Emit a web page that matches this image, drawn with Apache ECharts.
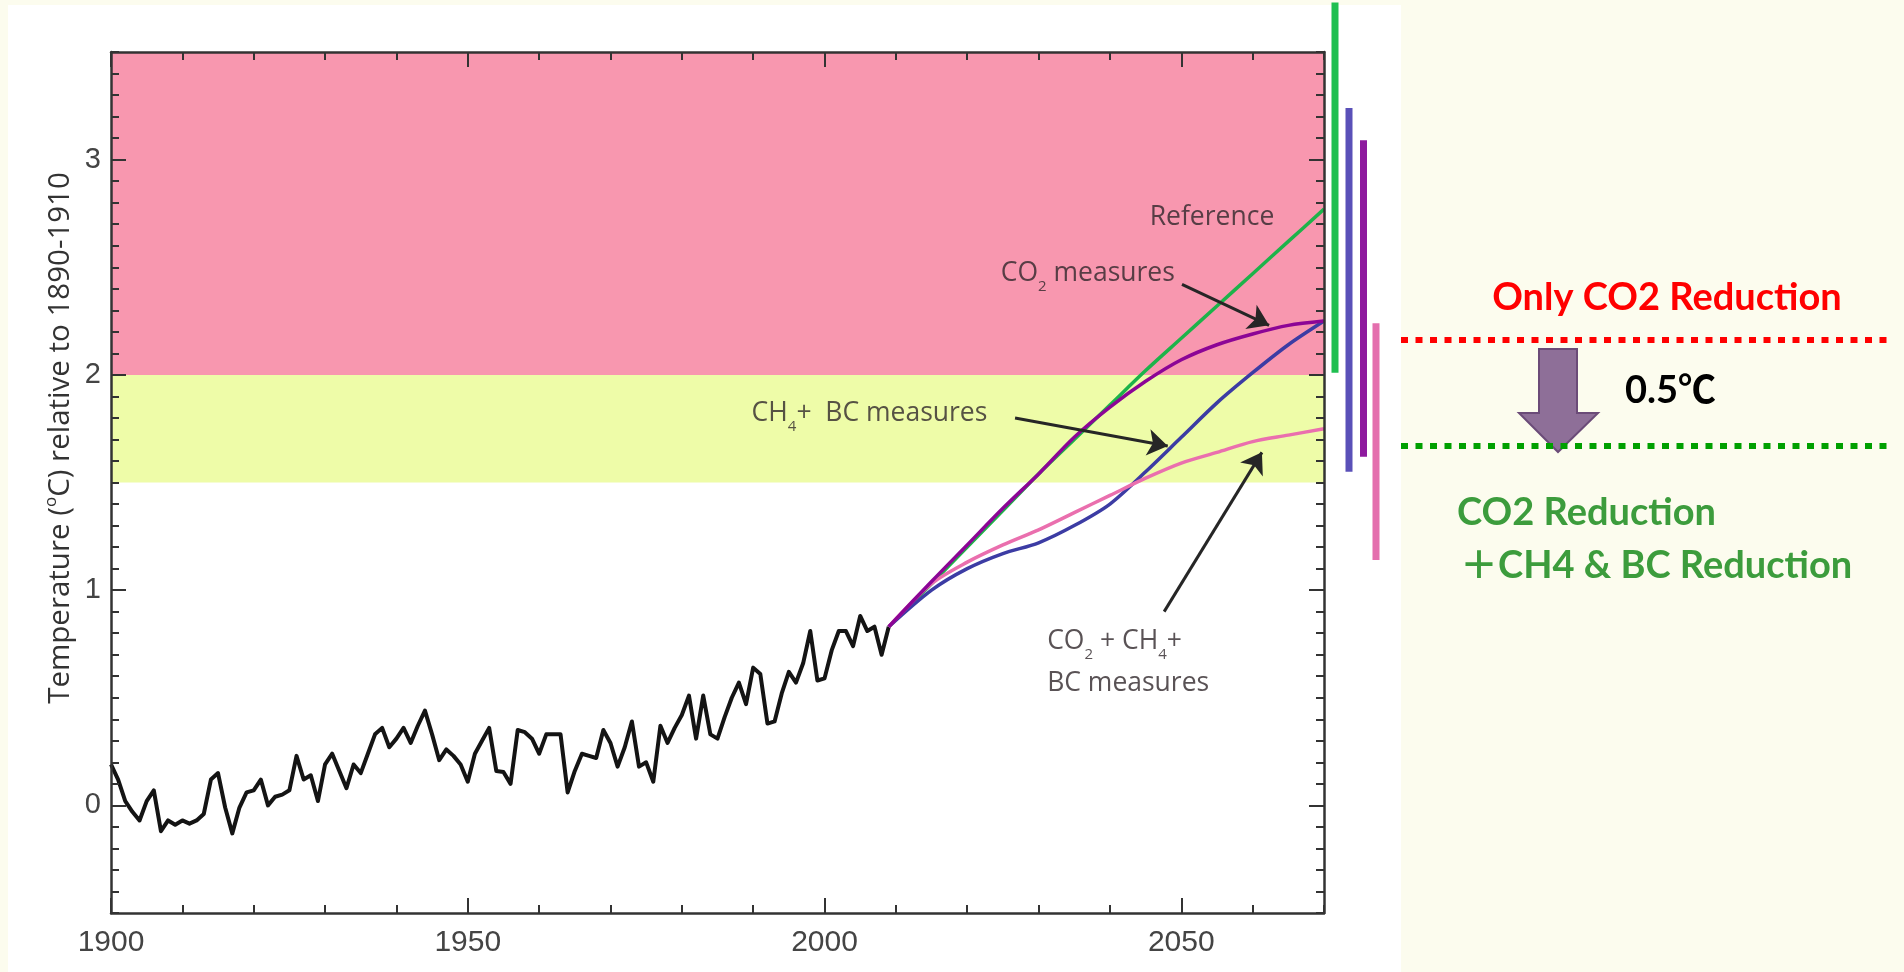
<!DOCTYPE html>
<html><head><meta charset="utf-8">
<script src="https://cdn.jsdelivr.net/npm/echarts@6/dist/echarts.min.js"></script>
<style>
html,body{margin:0;padding:0;width:1904px;height:972px;overflow:hidden;background:#fcfcee;}
#paper{position:absolute;left:8px;top:5px;width:1393px;height:967px;background:#ffffff;}
#chart{position:absolute;left:0;top:0;width:1904px;height:972px;}
</style></head><body>
<div id="paper"></div><div id="chart"></div>
<script>
// ---------- data ----------
const histStartYear = 1900;
const histTemps = [
 0.19, 0.12, 0.02,-0.03,-0.07, 0.02, 0.07,-0.12,-0.07,-0.09,
-0.07,-0.085,-0.07,-0.04, 0.12, 0.15,-0.01,-0.13,-0.01, 0.06,
 0.07, 0.12, 0.00, 0.04, 0.05, 0.07, 0.23, 0.12, 0.14, 0.02,
 0.19, 0.24, 0.16, 0.08, 0.19, 0.15, 0.24, 0.33, 0.36, 0.27,
 0.31, 0.36, 0.29, 0.37, 0.44, 0.33, 0.21, 0.26, 0.23, 0.19,
 0.11, 0.24, 0.30, 0.36, 0.16, 0.155,0.10, 0.35, 0.34, 0.31,
 0.24, 0.33, 0.33, 0.33, 0.06, 0.16, 0.24, 0.23, 0.22, 0.35,
 0.29, 0.18, 0.27, 0.39, 0.18, 0.20, 0.11, 0.37, 0.29, 0.36,
 0.42, 0.51, 0.31, 0.51, 0.33, 0.31, 0.41, 0.50, 0.57, 0.47,
 0.64, 0.61, 0.38, 0.39, 0.52, 0.62, 0.57, 0.66, 0.81, 0.58,
 0.59, 0.72, 0.81, 0.81, 0.74, 0.88, 0.81, 0.83, 0.70, 0.83
];
const projYears      = [2009, 2015, 2020, 2025, 2030, 2035, 2040, 2045, 2050, 2055, 2060, 2065, 2070];
const referenceTemps = [0.83, 1.03, 1.20, 1.37, 1.54, 1.70, 1.86, 2.02, 2.17, 2.32, 2.47, 2.62, 2.77];
const co2Temps       = [0.83, 1.04, 1.21, 1.38, 1.54, 1.71, 1.85, 1.97, 2.07, 2.14, 2.19, 2.23, 2.25];
const ch4bcTemps     = [0.83, 1.00, 1.10, 1.17, 1.22, 1.30, 1.40, 1.55, 1.71, 1.87, 2.01, 2.14, 2.25];
const allTemps       = [0.83, 1.03, 1.13, 1.21, 1.28, 1.36, 1.44, 1.52, 1.59, 1.64, 1.69, 1.72, 1.75];
// 2070 ranges: reference, CH4+BC, CO2, CO2+CH4+BC
const rangeHigh = [3.73, 3.24, 3.09, 2.24];
const rangeLow  = [2.01, 1.55, 1.62, 1.14];
const xTickLabels = [1900, 1950, 2000, 2050];
const yTickLabels = [0, 1, 2, 3];
const dangerBand  = [2, 3.5];
const cautionBand = [1.5, 2];
const noteX = [2054.3, 2036.9, 2006.3, 2031.2];
const noteY = [2.73, 2.47, 1.82, 0.665];
const noteText = ['{t|Reference}', '{t|CO}{s|2}{t| measures}', '{t|CH}{s|4}{t|+  BC measures}', '{t|CO}{s|2}{t| + CH}{s|4}{t|+}\n{t|BC measures}'];
const arrowFromX = [2050.1, 2026.7, 2047.6];
const arrowFromY = [2.42, 1.80, 0.90];
const arrowToX   = [2062.3, 2048.1, 2061.3];
const arrowToY   = [2.23, 1.67, 1.64];

// ---------- styles ----------
const xMin = 1900, xMax = 2070, yMin = -0.5, yMax = 3.5;
const axisColor = '#333333';
const noteColor = '#30272a';
const noteAlign = ['center', 'center', 'center', 'left'];
const barOffsets = [11, 25, 39.5, 52];
const barColors = ['#1fbf50', '#5a50b8', '#8e1a9e', '#e46fae'];
const sideFont = 'Lato, "Noto Sans CJK JP", sans-serif';

const chart = echarts.init(document.getElementById('chart'), null, {renderer: 'canvas'});

const histData = histTemps.map((v, i) => [histStartYear + i, v]);
const pair = arr => projYears.map((y, i) => [y, arr[i]]);

function xAx(pos, major) {
  return {
    type: 'value', position: pos, min: xMin, max: xMax, z: 6,
    interval: major ? undefined : 10,
    axisLine: {show: major, onZero: false, lineStyle: {color: axisColor, width: 2.5}},
    axisTick: major ? {show: true, inside: true, length: 15, customValues: xTickLabels, lineStyle: {color: axisColor, width: 2}}
                    : {show: true, inside: true, length: 8, lineStyle: {color: axisColor, width: 2}},
    axisLabel: (major && pos === 'bottom') ? {show: true, customValues: xTickLabels, margin: 15, fontSize: 30, color: '#444',
                 fontFamily: 'Liberation Sans', formatter: v => String(v)} : {show: false},
    splitLine: {show: false}
  };
}
function yAx(pos, major) {
  return {
    type: 'value', position: pos, min: yMin, max: yMax, z: 6,
    interval: major ? undefined : 0.1,
    axisLine: {show: major, onZero: false, lineStyle: {color: axisColor, width: 2.5}},
    axisTick: major ? {show: true, inside: true, length: 15, customValues: yTickLabels, lineStyle: {color: axisColor, width: 2}}
                    : {show: true, inside: true, length: 8, lineStyle: {color: axisColor, width: 2}},
    axisLabel: (major && pos === 'left') ? {show: true, customValues: yTickLabels, margin: 10, fontSize: 29, color: '#444',
                 fontFamily: 'Liberation Sans', formatter: v => String(v)} : {show: false},
    splitLine: {show: false}
  };
}

const option = {
  backgroundColor: 'transparent',
  animation: false,
  grid: {left: 111, right: 580, top: 52, bottom: 59, containLabel: false},
  xAxis: [xAx('bottom', true), xAx('bottom', false), xAx('top', true), xAx('top', false)],
  yAxis: [yAx('left', true), yAx('left', false), yAx('right', true), yAx('right', false)],
  series: [
    {
      type: 'line', data: [], z: 1, silent: true,
      markArea: {
        silent: true,
        data: [
          [{yAxis: dangerBand[0], itemStyle: {color: '#f897af'}}, {yAxis: dangerBand[1]}],
          [{yAxis: cautionBand[0], itemStyle: {color: '#eefca8'}}, {yAxis: cautionBand[1]}]
        ]
      }
    },
    {name: 'Observed', type: 'line', data: histData, showSymbol: false, z: 3,
     lineStyle: {color: '#141414', width: 4, join: 'round'}},
    {name: 'Reference', type: 'line', data: pair(referenceTemps), smooth: 0.3, showSymbol: false, z: 3,
     lineStyle: {color: '#1db34a', width: 3.5}},
    {name: 'CH4+BC measures', type: 'line', data: pair(ch4bcTemps), smooth: 0.3, showSymbol: false, z: 3,
     lineStyle: {color: '#3c3ca4', width: 3.5}},
    {name: 'CO2+CH4+BC measures', type: 'line', data: pair(allTemps), smooth: 0.3, showSymbol: false, z: 3,
     lineStyle: {color: '#ea6fae', width: 3.5}},
    {name: 'CO2 measures', type: 'line', data: pair(co2Temps), smooth: 0.3, showSymbol: false, z: 4,
     lineStyle: {color: '#8c0596', width: 3.5}},
    {
      name: 'ranges', type: 'custom', clip: false, z: 5, silent: true,
      data: rangeLow.map((lo, i) => [i, rangeHigh[i], lo]),
      renderItem: function (params, api) {
        const i = params.dataIndex;
        const top = api.coord([xMax, api.value(1)]);
        const bot = api.coord([xMax, api.value(2)]);
        return {type: 'rect',
          shape: {x: top[0] + barOffsets[i] - 3.5, y: top[1], width: 7, height: bot[1] - top[1]},
          style: {fill: barColors[i]}};
      }
    },
    {
      name: 'notes', type: 'scatter', z: 7, silent: true,
      symbolSize: 1, itemStyle: {color: 'rgba(0,0,0,0)'},
      data: noteX.map((x, i) => ({value: [x, noteY[i]], label: {align: noteAlign[i]}})),
      label: {
        show: true, position: 'inside', verticalAlign: 'middle',
        formatter: p => noteText[p.dataIndex],
        rich: {
          t: {fontSize: 26.5, fontFamily: '"Open Sans"', color: noteColor, lineHeight: 42},
          s: {fontSize: 15, fontFamily: '"Open Sans"', color: noteColor, lineHeight: 22, verticalAlign: 'bottom'}
        }
      },
      markLine: {
        silent: true, symbol: ['none', 'arrow'], symbolSize: 20,
        label: {show: false},
        lineStyle: {color: '#262626', width: 3, type: 'solid'},
        data: arrowFromX.map((x, i) => [{coord: [x, arrowFromY[i]]}, {coord: [arrowToX[i], arrowToY[i]]}])
      }
    }
  ],
  graphic: [
    {type: 'text', x: 61, y: 438, rotation: Math.PI / 2, silent: true,
     style: {text: '{a|Temperature (}{o|o}{a|C) relative to 1890-1910}', fill: '#333',
             align: 'center', verticalAlign: 'middle', textAlign: 'center', textVerticalAlign: 'middle',
             rich: {
               a: {fontSize: 29.5, fontFamily: '"Open Sans"', fill: '#333', color: '#333', lineHeight: 36},
               o: {fontSize: 17, fontFamily: '"Open Sans"', fill: '#333', color: '#333', lineHeight: 18, verticalAlign: 'top'}
             }}},
    {type: 'polygon', silent: true,
     shape: {points: [[1539, 349], [1577, 349], [1577, 413], [1598, 413], [1558, 452], [1519, 413], [1539, 413]]},
     style: {fill: '#8e6f98', stroke: '#6b4b78', lineWidth: 2}},
    {type: 'line', silent: true, shape: {x1: 1401, y1: 340, x2: 1891, y2: 340},
     style: {stroke: '#ff0000', lineWidth: 6, lineDash: [7, 7.5]}},
    {type: 'line', silent: true, shape: {x1: 1401, y1: 446, x2: 1891, y2: 446},
     style: {stroke: '#00a000', lineWidth: 6, lineDash: [7, 7.5]}},
    {type: 'text', x: 1667, y: 298, silent: true,
     style: {text: 'Only CO2 Reduction', fill: '#ff0000', font: 'bold 38px ' + sideFont,
             align: 'center', verticalAlign: 'middle', textAlign: 'center', textVerticalAlign: 'middle'}},
    {type: 'text', x: 1625, y: 391, silent: true,
     style: {text: '0.5℃', fill: '#000000', font: 'bold 38px ' + sideFont,
             align: 'left', verticalAlign: 'middle', textAlign: 'left', textVerticalAlign: 'middle'}},
    {type: 'text', x: 1457, y: 513, silent: true,
     style: {text: 'CO2 Reduction', fill: '#3c9c3c', font: 'bold 38px ' + sideFont,
             align: 'left', verticalAlign: 'middle', textAlign: 'left', textVerticalAlign: 'middle'}},
    {type: 'text', x: 1460, y: 566, silent: true,
     style: {text: '＋CH4 & BC Reduction', fill: '#3c9c3c', font: 'bold 38px ' + sideFont,
             align: 'left', verticalAlign: 'middle', textAlign: 'left', textVerticalAlign: 'middle'}}
  ]
};
chart.setOption(option);
</script>
</body></html>
